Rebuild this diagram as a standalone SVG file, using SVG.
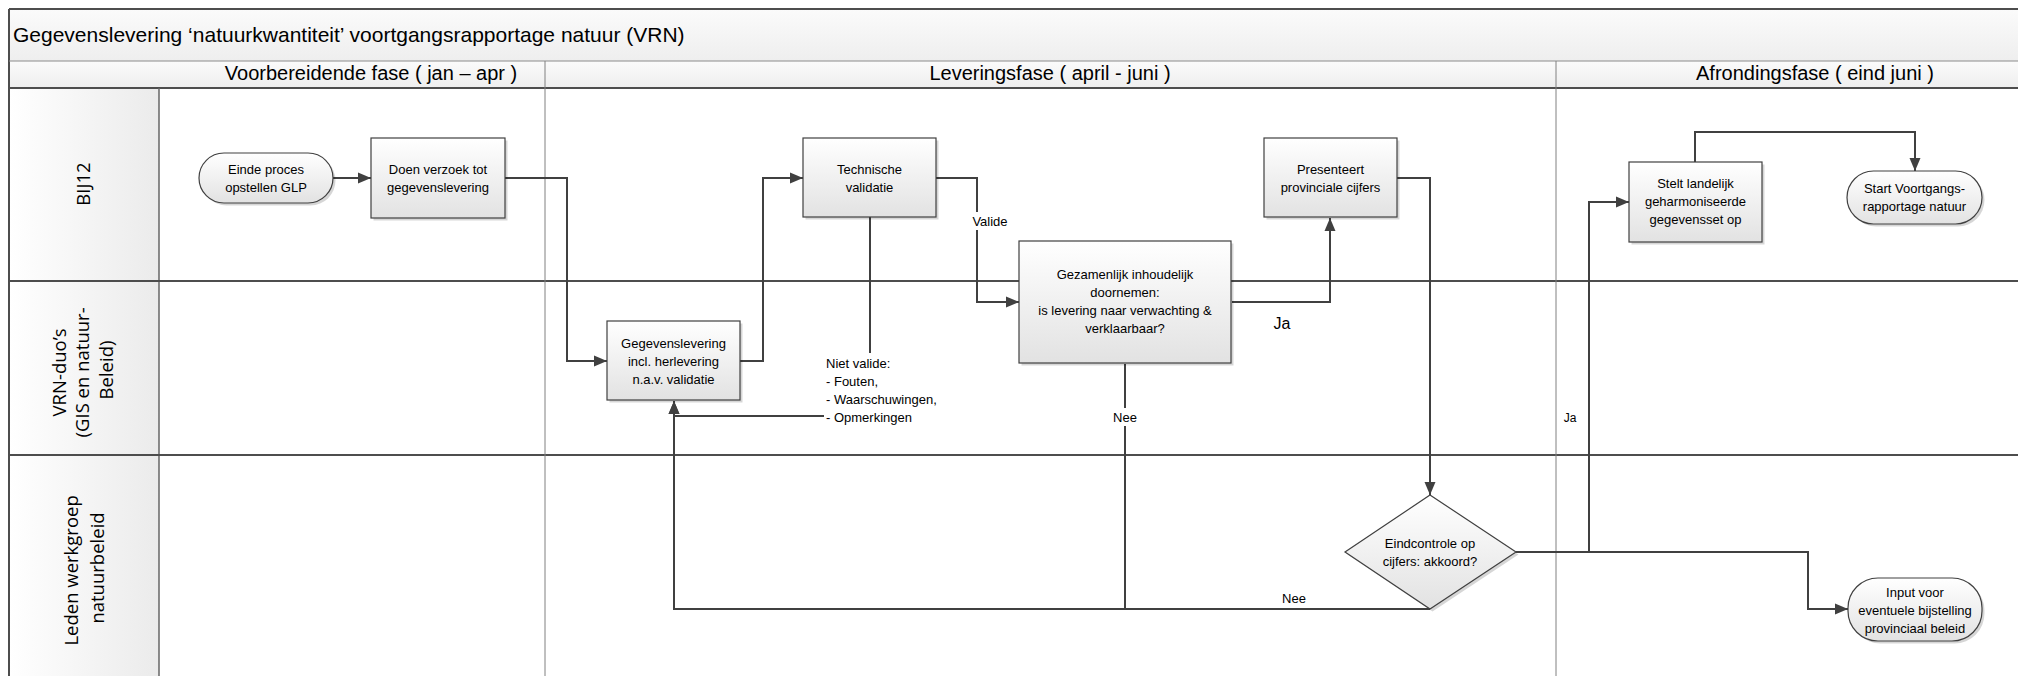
<svg xmlns="http://www.w3.org/2000/svg" width="2018" height="676" viewBox="0 0 2018 676">
<defs>
  <linearGradient id="gNode" x1="0" y1="0" x2="0" y2="1">
    <stop offset="0" stop-color="#ffffff"/>
    <stop offset="1" stop-color="#e2e2e2"/>
  </linearGradient>
  <linearGradient id="gBand" x1="0" y1="0" x2="0" y2="1">
    <stop offset="0" stop-color="#fbfbfb"/>
    <stop offset="1" stop-color="#eeeeee"/>
  </linearGradient>
  <linearGradient id="gLane" x1="0" y1="0" x2="1" y2="0">
    <stop offset="0" stop-color="#ffffff"/>
    <stop offset="1" stop-color="#ebebeb"/>
  </linearGradient>
  <marker id="arr" markerUnits="userSpaceOnUse" markerWidth="14" markerHeight="12" refX="13" refY="6" orient="auto">
    <path d="M0,0.5 L13,6 L0,11.5 z" fill="#404040"/>
  </marker>
</defs>
<style>
  .t{font-family:"Liberation Sans",Arial,sans-serif;fill:#000}
  .n{font-size:13px;text-anchor:middle}
  .lbl{font-size:13px}
  .hdr{font-size:20px;text-anchor:middle}
  .lane{font-family:"Open Sans","Liberation Sans",sans-serif;font-size:18.5px;text-anchor:middle;fill:#000}
  .node{fill:url(#gNode);stroke:#404040;stroke-width:1.2}
  .sh{fill:#000;opacity:0.16}
  .c{fill:none;stroke:#404040;stroke-width:2}
  .ca{fill:none;stroke:#404040;stroke-width:2;marker-end:url(#arr)}
  .bg{fill:#ffffff}
  .div{stroke:#4d4d4d;stroke-width:2}
  .thin{stroke:#808080;stroke-width:1}
</style>

<g id="pool">
  <rect x="9" y="9" width="2030" height="52" fill="url(#gBand)"/>
  <rect x="9" y="61" width="2030" height="27" fill="url(#gBand)"/>
  <rect x="9" y="88" width="150" height="620" fill="url(#gLane)"/>
  <rect x="159" y="88" width="1880" height="620" fill="#ffffff"/>
  <text class="t" x="13" y="42" font-size="21">Gegevenslevering ‘natuurkwantiteit’ voortgangsrapportage natuur (VRN)</text>
  <line x1="9" y1="9" x2="2030" y2="9" class="div"/>
  <line x1="9" y1="9" x2="9" y2="700" class="div"/>
  <line x1="9" y1="61" x2="2030" y2="61" stroke="#8c8c8c" stroke-width="1.2"/>
  <line x1="9" y1="88" x2="2030" y2="88" class="div"/>
  <line x1="159" y1="88" x2="159" y2="700" stroke="#666666" stroke-width="1.5"/>
  <line x1="9" y1="281" x2="2030" y2="281" class="div"/>
  <line x1="9" y1="455" x2="2030" y2="455" class="div"/>
</g>

<g id="phase-voorbereidende">
  <line x1="545" y1="61" x2="545" y2="700" class="thin"/>
  <text class="t hdr" x="371" y="80">Voorbereidende fase ( jan – apr )</text>
</g>
<g id="phase-levering">
  <line x1="1556" y1="61" x2="1556" y2="700" class="thin"/>
  <text class="t hdr" x="1050" y="80">Leveringsfase ( april - juni )</text>
</g>
<g id="phase-afronding">
  <text class="t hdr" x="1815" y="80">Afrondingsfase ( eind juni )</text>
</g>

<g id="lane-bij12">
  <text class="lane" transform="translate(0,184) rotate(-90)" x="0" y="89.5">BIJ12</text>
</g>
<g id="lane-vrn">
  <text class="lane" transform="translate(0,370) rotate(-90)">
    <tspan x="0" y="65.5">VRN-duo’s</tspan>
    <tspan x="0" y="89">(GIS en natuur-</tspan>
    <tspan x="0" y="112.5">Beleid)</tspan>
  </text>
</g>
<g id="lane-leden">
  <text class="lane" transform="translate(0,568) rotate(-90)">
    <tspan x="0" y="78">Leden werkgroep</tspan>
    <tspan x="0" y="103.5">natuurbeleid</tspan>
  </text>
</g>

<g id="connectors">
  <path class="ca" d="M333,178 H371"/>
  <path class="ca" d="M505,178 H567 V361 H607"/>
  <path class="ca" d="M740,361 H763 V178 H803"/>
  <path class="ca" d="M936,178 H977 V302 H1019"/>
  <rect class="bg" x="970" y="212" width="40" height="18"/>
  <text class="t lbl" x="990" y="225.5" text-anchor="middle">Valide</text>
  <path class="ca" d="M870,217 V416 H674 V401"/>
  <rect class="bg" x="824" y="353" width="122" height="74"/>
  <text class="t lbl">
    <tspan x="826" y="367.5">Niet valide:</tspan>
    <tspan x="826" y="385.5">- Fouten,</tspan>
    <tspan x="826" y="403.5">- Waarschuwingen,</tspan>
    <tspan x="826" y="421.5">- Opmerkingen</tspan>
  </text>
  <path class="ca" d="M1430,609 H674 V401"/>
  <text class="t lbl" x="1294" y="602.5" text-anchor="middle">Nee</text>
  <path class="c" d="M1125,364 V609"/>
  <rect class="bg" x="1110" y="408" width="30" height="18"/>
  <text class="t lbl" x="1125" y="421.5" text-anchor="middle">Nee</text>
  <path class="ca" d="M1232,302 H1330 V218"/>
  <text class="t" x="1282" y="329" font-size="16" text-anchor="middle">Ja</text>
  <path class="ca" d="M1397,178 H1430 V495"/>
  <path class="ca" d="M1516,552 H1808 V609 H1848"/>
  <path class="ca" d="M1589,552 V202 H1629"/>
  <text class="t" x="1570" y="422" font-size="12" text-anchor="middle">Ja</text>
  <path class="ca" d="M1695,162 V132 H1915 V171"/>
</g>

<g id="node-einde-proces">
  <rect class="sh" x="201.5" y="155.5" width="134" height="50" rx="25"/>
  <rect class="node" x="199" y="153" width="134" height="50" rx="25"/>
  <text class="t n"><tspan x="266" y="173.5">Einde proces</tspan><tspan x="266" y="191.5">opstellen GLP</tspan></text>
</g>

<g id="node-doen-verzoek">
  <rect class="sh" x="373.5" y="140.5" width="134" height="80"/>
  <rect class="node" x="371" y="138" width="134" height="80"/>
  <text class="t n"><tspan x="438" y="173.5">Doen verzoek tot</tspan><tspan x="438" y="191.5">gegevenslevering</tspan></text>
</g>

<g id="node-gegevenslevering">
  <rect class="sh" x="609.5" y="323.5" width="133" height="79"/>
  <rect class="node" x="607" y="321" width="133" height="79"/>
  <text class="t n"><tspan x="673.5" y="347.5">Gegevenslevering</tspan><tspan x="673.5" y="365.5">incl. herlevering</tspan><tspan x="673.5" y="383.5">n.a.v. validatie</tspan></text>
</g>

<g id="node-technische-validatie">
  <rect class="sh" x="805.5" y="140.5" width="133" height="79"/>
  <rect class="node" x="803" y="138" width="133" height="79"/>
  <text class="t n"><tspan x="869.5" y="173.5">Technische</tspan><tspan x="869.5" y="191.5">validatie</tspan></text>
</g>

<g id="node-gezamenlijk">
  <rect class="sh" x="1021.5" y="243.5" width="212" height="122"/>
  <rect class="node" x="1019" y="241" width="212" height="122"/>
  <text class="t n"><tspan x="1125" y="278.5">Gezamenlijk inhoudelijk</tspan><tspan x="1125" y="296.5">doornemen:</tspan><tspan x="1125" y="314.5">is levering naar verwachting &amp;</tspan><tspan x="1125" y="332.5">verklaarbaar?</tspan></text>
</g>

<g id="node-presenteert">
  <rect class="sh" x="1266.5" y="140.5" width="133" height="79"/>
  <rect class="node" x="1264" y="138" width="133" height="79"/>
  <text class="t n"><tspan x="1330.5" y="173.5">Presenteert</tspan><tspan x="1330.5" y="191.5">provinciale cijfers</tspan></text>
</g>

<g id="node-eindcontrole">
  <polygon class="sh" points="1432.5,497.5 1518.5,554.5 1432.5,611.5 1347.5,554.5"/>
  <polygon class="node" points="1430,495 1516,552 1430,609 1345,552"/>
  <text class="t n"><tspan x="1430" y="548">Eindcontrole op</tspan><tspan x="1430" y="566">cijfers: akkoord?</tspan></text>
</g>

<g id="node-stelt-landelijk">
  <rect class="sh" x="1631.5" y="164.5" width="133" height="80"/>
  <rect class="node" x="1629" y="162" width="133" height="80"/>
  <text class="t n"><tspan x="1695.5" y="187.5">Stelt landelijk</tspan><tspan x="1695.5" y="205.5">geharmoniseerde</tspan><tspan x="1695.5" y="223.5">gegevensset op</tspan></text>
</g>

<g id="node-start-vrn">
  <rect class="sh" x="1849.5" y="173.5" width="135" height="53" rx="26.5"/>
  <rect class="node" x="1847" y="171" width="135" height="53" rx="26.5"/>
  <text class="t n"><tspan x="1914.5" y="193">Start Voortgangs-</tspan><tspan x="1914.5" y="211">rapportage natuur</tspan></text>
</g>

<g id="node-input-beleid">
  <rect class="sh" x="1850.5" y="580.5" width="134" height="63" rx="30"/>
  <rect class="node" x="1848" y="578" width="134" height="63" rx="30"/>
  <text class="t n"><tspan x="1915" y="596.5">Input voor</tspan><tspan x="1915" y="614.5">eventuele bijstelling</tspan><tspan x="1915" y="632.5">provinciaal beleid</tspan></text>
</g>
</svg>
